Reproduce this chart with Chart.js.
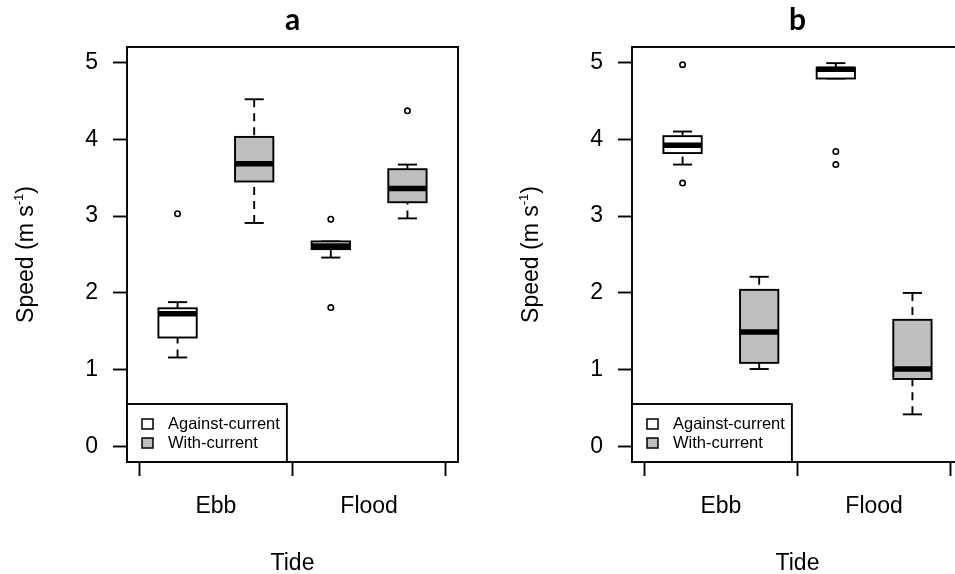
<!DOCTYPE html>
<html><head><meta charset="utf-8">
<script src="https://cdn.jsdelivr.net/npm/chart.js@4.4.1/dist/chart.umd.min.js"></script>
<style>
html,body{margin:0;padding:0;background:#fff;overflow:hidden;}
#wrap{position:relative;width:955px;height:574px;overflow:hidden;background:#fff;}
canvas{position:absolute;top:0;}
</style></head><body>
<div id="wrap">
<canvas id="ca" width="505" height="574" style="left:0px"></canvas>
<canvas id="cb" width="505" height="574" style="left:505px"></canvas>
</div>
<script>
const categories = ['Ebb', 'Flood'];
const groups = ['Against-current', 'With-current'];
const groupFills = ['#FFFFFF', '#BEBEBE'];
const yTicks = [0, 1, 2, 3, 4, 5];
const xTitle = 'Tide';
// [lower whisker, Q1, median, Q3, upper whisker] for Ebb, Flood
const aAgainstStats = [[1.16, 1.42, 1.73, 1.80, 1.88], [2.46, 2.57, 2.61, 2.67, 2.67]];
const aWithStats    = [[2.91, 3.45, 3.68, 4.03, 4.52], [2.97, 3.18, 3.36, 3.61, 3.67]];
const aAgainstOut   = [[3.03], [2.96, 1.81]];
const aWithOut      = [[], [4.37]];
const bAgainstStats = [[3.67, 3.82, 3.92, 4.04, 4.10], [4.79, 4.79, 4.91, 4.93, 4.99]];
const bWithStats    = [[1.01, 1.09, 1.49, 2.04, 2.21], [0.42, 0.88, 1.01, 1.65, 2.00]];
const bAgainstOut   = [[4.97, 3.43], [3.84, 3.67]];
const bWithOut      = [[], []];

const BOXW = 0.5, CAPW = 0.25;
const FONT = '"Liberation Sans", Arial, sans-serif';
const FS = 23;
const nG = groups.length;
const pos = (ci, g) => ci * nG + g + 1;
const nPos = categories.length * nG;
const boundaries = Array.from({length: categories.length + 1}, (_, i) => i * nG + 0.5);
const centers = categories.map((_, i) => i * nG + (nG + 1) / 2);

function makePanel(id, title, stats, outs) {
  const line = (ctx, x1, y1, x2, y2) => { ctx.beginPath(); ctx.moveTo(x1, y1); ctx.lineTo(x2, y2); ctx.stroke(); };
  const plugin = {
    id: 'boxes_' + id,
    beforeDatasetsDraw(chart) {
      const {ctx, scales: {x, y}} = chart;
      stats.forEach((perCat, g) => perCat.forEach((s, ci) => {
        const p = pos(ci, g);
        const xc = x.getPixelForValue(p);
        const xl = x.getPixelForValue(p - BOXW / 2), xr = x.getPixelForValue(p + BOXW / 2);
        const cl = x.getPixelForValue(p - CAPW / 2), cr = x.getPixelForValue(p + CAPW / 2);
        const [lo, q1, md, q3, hi] = s.map(v => y.getPixelForValue(v));
        ctx.save();
        ctx.strokeStyle = '#000'; ctx.lineWidth = 1.9; ctx.lineCap = 'butt';
        ctx.setLineDash([8, 6]);
        line(ctx, xc, lo, xc, q1);
        line(ctx, xc, hi, xc, q3);
        ctx.setLineDash([]);
        line(ctx, cl, lo, cr, lo);
        line(ctx, cl, hi, cr, hi);
        ctx.fillStyle = groupFills[g];
        ctx.fillRect(xl, q3, xr - xl, q1 - q3);
        ctx.strokeRect(xl, q3, xr - xl, q1 - q3);
        ctx.lineWidth = 5.5;
        line(ctx, xl, md, xr, md);
        ctx.restore();
      }));
    },
    afterDraw(chart) {
      const {ctx, chartArea: a} = chart;
      ctx.save();
      ctx.strokeStyle = '#000'; ctx.lineWidth = 1.9;
      ctx.strokeRect(a.left, a.top, a.right - a.left, a.bottom - a.top);
      // legend
      ctx.font = '16.5px ' + FONT;
      const tw = Math.max(...groups.map(t => ctx.measureText(t).width));
      const lw = 15 + 11 + 15 + tw + 7, lh = 58;
      const lt = a.bottom - lh;
      ctx.fillStyle = '#fff';
      ctx.fillRect(a.left, lt, lw, lh);
      ctx.strokeRect(a.left, lt, lw, lh);
      groups.forEach((gname, g) => {
        const yc = lt + 20 + g * 19;
        ctx.fillStyle = groupFills[g];
        ctx.lineWidth = 1.5;
        ctx.fillRect(a.left + 15, yc - 5, 11, 10);
        ctx.strokeRect(a.left + 15, yc - 5, 11, 10);
        ctx.fillStyle = '#000';
        ctx.textBaseline = 'middle'; ctx.textAlign = 'left';
        ctx.fillText(gname, a.left + 41, yc);
      });
      // panel title
      const cx = (a.left + a.right) / 2;
      ctx.fillStyle = '#000';
      ctx.font = 'bold 30px Lato, ' + FONT;
      ctx.textAlign = 'center'; ctx.textBaseline = 'alphabetic';
      ctx.fillText(title, cx, a.top - 17);
      // x title
      ctx.font = FS + 'px ' + FONT;
      ctx.fillText(xTitle, cx, a.bottom + 108);
      // y title with superscript
      ctx.translate(33, (a.top + a.bottom) / 2);
      ctx.rotate(-Math.PI / 2);
      const p1 = 'Speed (m s', sup = '-1', p2 = ')';
      ctx.font = FS + 'px ' + FONT;
      const w1 = ctx.measureText(p1).width, w3 = ctx.measureText(p2).width;
      ctx.font = '13px ' + FONT;
      const w2 = ctx.measureText(sup).width;
      let sx = -(w1 + w2 + w3) / 2;
      ctx.textAlign = 'left';
      ctx.font = FS + 'px ' + FONT;
      ctx.fillText(p1, sx, 0); sx += w1;
      ctx.font = '13px ' + FONT;
      ctx.fillText(sup, sx, -10); sx += w2;
      ctx.font = FS + 'px ' + FONT;
      ctx.fillText(p2, sx, 0);
      ctx.restore();
    }
  };
  const datasets = groups.map((gname, g) => ({
    label: gname,
    data: categories.flatMap((c, ci) => outs[g][ci].map(v => ({x: pos(ci, g), y: v}))),
    pointStyle: 'circle', pointRadius: 2.7, pointBorderWidth: 1.6,
    pointBorderColor: '#000', pointBackgroundColor: '#fff', showLine: false
  }));
  return new Chart(document.getElementById(id), {
    type: 'scatter',
    data: {datasets},
    plugins: [plugin],
    options: {
      responsive: false, animation: false, events: [],
      layout: {padding: {left: 0, top: 47, right: 47, bottom: 0}},
      plugins: {legend: {display: false}, tooltip: {enabled: false}, title: {display: false}},
      scales: {
        x: {
          type: 'linear', min: 0.5 - 0.04 * nPos, max: nPos + 0.5 + 0.04 * nPos,
          afterBuildTicks: s => { s.ticks = [...boundaries, ...centers].sort((p, q) => p - q).map(v => ({value: v})); },
          afterFit: s => { s.height = 112; },
          border: {display: false},
          grid: {
            drawOnChartArea: false, drawTicks: true, tickLength: 14, tickWidth: 1.9,
            tickColor: c => boundaries.includes(c.tick && c.tick.value) ? '#000' : 'rgba(0,0,0,0)'
          },
          ticks: {
            autoSkip: false, maxRotation: 0, padding: 17, color: '#000',
            font: {family: FONT, size: FS},
            callback: v => { const i = centers.indexOf(v); return i >= 0 ? categories[i] : ''; }
          }
        },
        y: {
          type: 'linear', min: -0.2, max: 5.2,
          afterBuildTicks: s => { s.ticks = yTicks.map(v => ({value: v})); },
          afterFit: s => { s.width = 127; },
          border: {display: false},
          grid: {drawOnChartArea: false, drawTicks: true, tickLength: 14, tickWidth: 1.9, tickColor: '#000'},
          ticks: {padding: 15, color: '#000', font: {family: FONT, size: FS}}
        }
      }
    }
  });
}
makePanel('ca', 'a', [aAgainstStats, aWithStats], [aAgainstOut, aWithOut]);
makePanel('cb', 'b', [bAgainstStats, bWithStats], [bAgainstOut, bWithOut]);
</script>
</body></html>
